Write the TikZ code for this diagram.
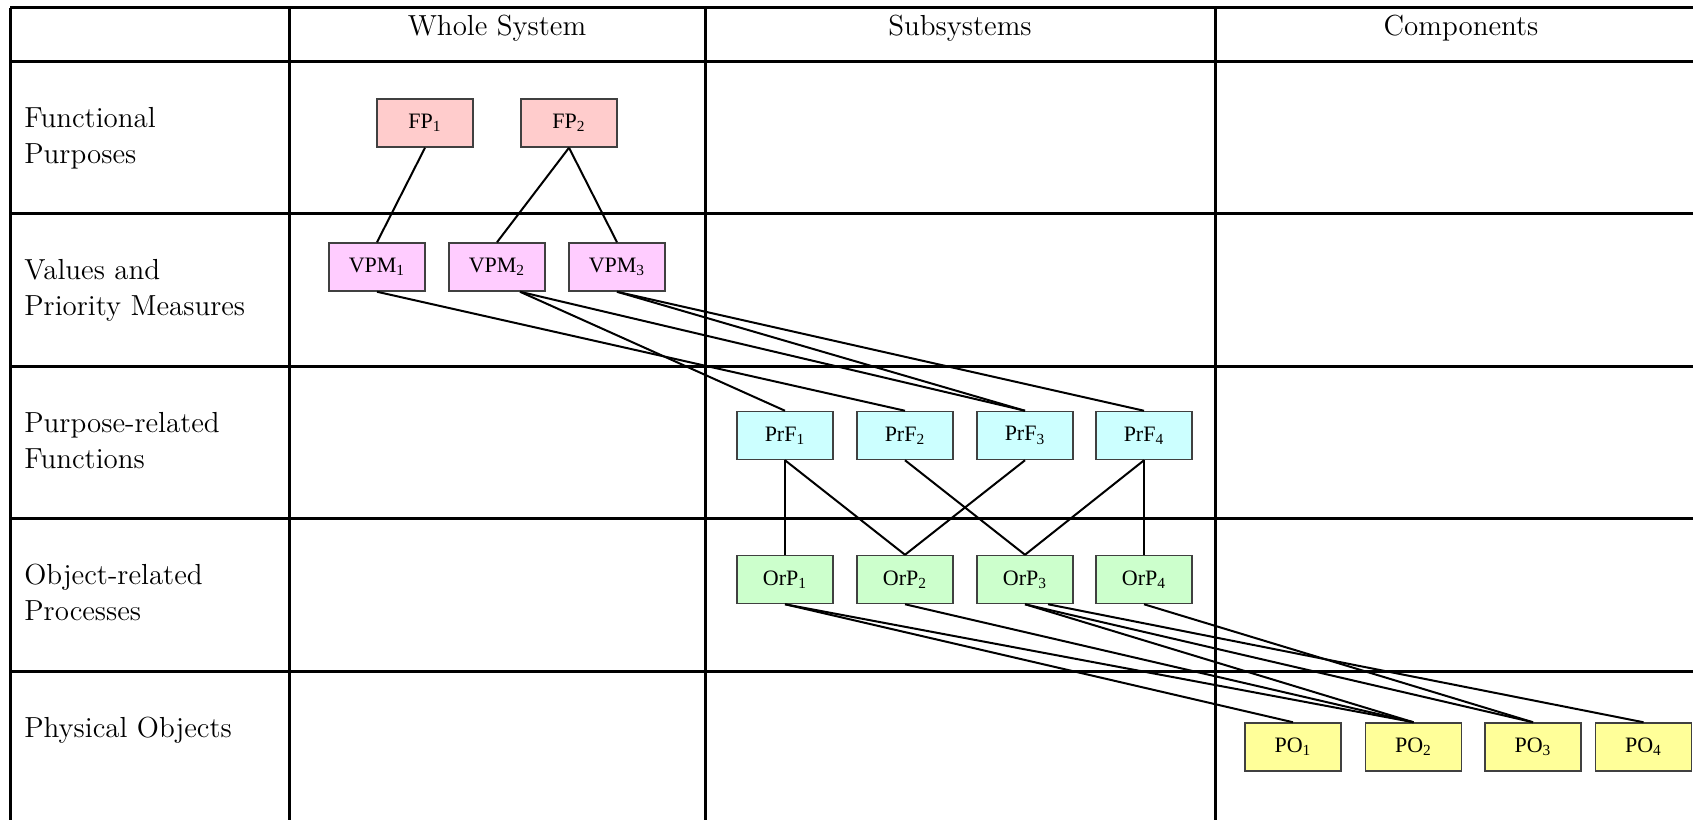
\documentclass[tikz,border=0pt]{standalone}
\usepackage{fontspec}
\newfontfamily\boxfont{Liberation Serif}
\definecolor{fpfill}{HTML}{FFCCCC}
\definecolor{vpmfill}{HTML}{FFCCFF}
\definecolor{prffill}{HTML}{CCFFFF}
\definecolor{orpfill}{HTML}{CCFFCC}
\definecolor{pofill}{HTML}{FFFF99}
\definecolor{boxline}{HTML}{404040}

\begin{document}
\begin{tikzpicture}[x=0.5pt,y=-0.5pt]

 \tikzset{
    tableline/.style={line width=1.5pt},
    rowtext/.style={align=left,inner sep=0pt,anchor=north west,font=\fontsize{14.5}{18}\selectfont},
    coltext/.style={inner sep=0pt,anchor=base,font=\fontsize{14.5}{18}\selectfont},
    lvlbox/.style={draw=boxline,line width=0.75pt,minimum width=48pt,minimum height=24pt,inner sep=0pt,font=\boxfont\fontsize{11}{13}\selectfont},
    fp/.style={lvlbox,fill=fpfill},
    vpm/.style={lvlbox,fill=vpmfill},
    prf/.style={lvlbox,fill=prffill},
    orp/.style={lvlbox,fill=orpfill},
    po/.style={lvlbox,fill=pofill},
    link/.style={line width=1pt},
  }

  \useasboundingbox (0,0) rectangle (1693,820);

  \draw[tableline] (10,7.5) -- (1693,7.5);
  \draw[tableline] (10,61) -- (1693,61);
  \draw[tableline] (10,213) -- (1693,213);
  \draw[tableline] (10,366) -- (1693,366);
  \draw[tableline] (10,518) -- (1693,518);
  \draw[tableline] (10,671) -- (1693,671);
  \draw[tableline] (10,7.5) -- (10,820);
  \draw[tableline] (289,7.5) -- (289,820);
  \draw[tableline] (705,7.5) -- (705,820);
  \draw[tableline] (1215,7.5) -- (1215,820);

  \node[coltext] (whole) at (497,35.5) {Whole System};
  \node[coltext] (subsys) at (960,35.5) {Subsystems};
  \node[coltext] (comps) at (1461,35.5) {Components};

  \node[rowtext] (fprow) at (24,107) {Functional\\Purposes};
  \node[rowtext] (vpmrow) at (24,259) {Values and\\Priority Measures};
  \node[rowtext] (prfrow) at (24,412) {Purpose-related\\Functions};
  \node[rowtext] (orprow) at (24,564) {Object-related\\Processes};
  \node[rowtext] (porow) at (24,717) {Physical Objects};

  \node[fp] (fp1) at (425,123) {FP\textsubscript{1}};
  \node[fp] (fp2) at (569,123) {FP\textsubscript{2}};

  \node[vpm] (vpm1) at (377,267) {VPM\textsubscript{1}};
  \node[vpm] (vpm2) at (497,267) {VPM\textsubscript{2}};
  \node[vpm] (vpm3) at (617,267) {VPM\textsubscript{3}};

  \node[prf] (prf1) at (785,435.5) {PrF\textsubscript{1}};
  \node[prf] (prf2) at (905,435.5) {PrF\textsubscript{2}};
  \node[prf] (prf3) at (1025,435.5) {PrF\textsubscript{3}};
  \node[prf] (prf4) at (1144,435.5) {PrF\textsubscript{4}};

  \node[orp] (orp1) at (785,579.5) {OrP\textsubscript{1}};
  \node[orp] (orp2) at (905,579.5) {OrP\textsubscript{2}};
  \node[orp] (orp3) at (1025,579.5) {OrP\textsubscript{3}};
  \node[orp] (orp4) at (1144,579.5) {OrP\textsubscript{4}};

  \node[po] (po1) at (1293,747) {PO\textsubscript{1}};
  \node[po] (po2) at (1413.5,747) {PO\textsubscript{2}};
  \node[po] (po3) at (1533,747) {PO\textsubscript{3}};
  \node[po] (po4) at (1643.5,747) {PO\textsubscript{4}};

  \draw[link] (fp1.south) -- (vpm1.north);
  \draw[link] (fp2.south) -- (vpm2.north);
  \draw[link] (fp2.south) -- (vpm3.north);

  \draw[link] (vpm1.south) -- (prf2.north);
  \draw[link] ([xshift=11.5pt]vpm2.south) -- (prf1.north);
  \draw[link] ([xshift=11.5pt]vpm2.south) -- (prf3.north);
  \draw[link] (vpm3.south) -- (prf3.north);
  \draw[link] (vpm3.south) -- (prf4.north);

  \draw[link] (prf1.south) -- (orp1.north);
  \draw[link] (prf1.south) -- (orp2.north);
  \draw[link] (prf2.south) -- (orp3.north);
  \draw[link] (prf3.south) -- (orp2.north);
  \draw[link] (prf4.south) -- (orp3.north);
  \draw[link] (prf4.south) -- (orp4.north);

  \draw[link] (orp1.south) -- (po1.north);
  \draw[link] (orp1.south) -- (po2.north);
  \draw[link] (orp2.south) -- (po2.north);
  \draw[link] (orp3.south) -- (po2.north);
  \draw[link] (orp3.south) -- (po3.north);
  \draw[link] ([xshift=11.5pt]orp3.south) -- (po4.north);
  \draw[link] (orp4.south) -- (po3.north);
\end{tikzpicture}
\end{document}
